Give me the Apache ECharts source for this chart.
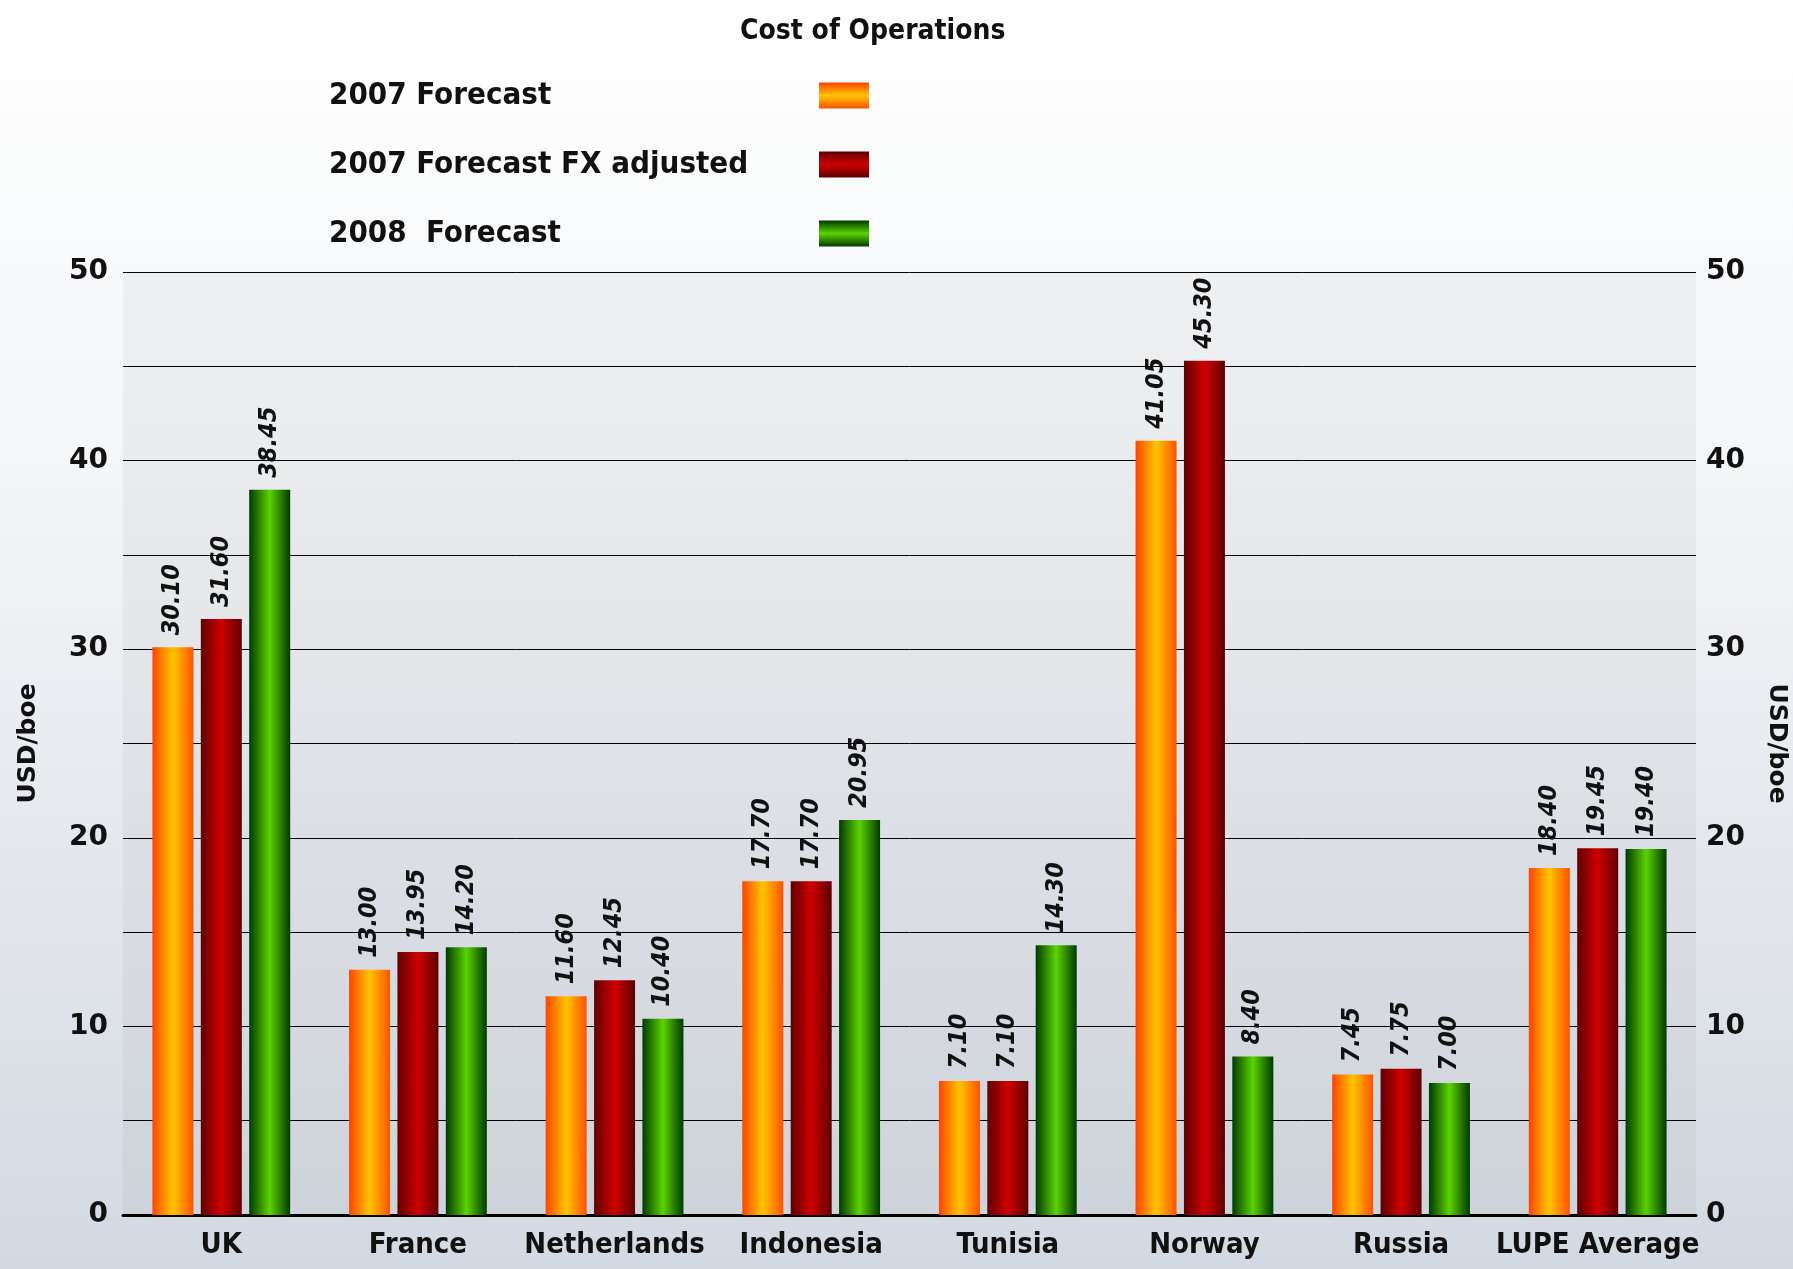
<!DOCTYPE html>
<html>
<head>
<meta charset="utf-8">
<script src="https://cdn.jsdelivr.net/npm/echarts@6/dist/echarts.min.js"></script>
<style>
  html, body { margin: 0; padding: 0; }
  #chart { width: 1793px; height: 1269px; }
</style>
</head>
<body>
<div id="chart"></div>
<script>
const categories = ["UK", "France", "Netherlands", "Indonesia", "Tunisia", "Norway", "Russia", "LUPE Average"];
const forecast2007 = [30.10, 13.00, 11.60, 17.70, 7.10, 41.05, 7.45, 18.40];
const forecastFx2007 = [31.60, 13.95, 12.45, 17.70, 7.10, 45.30, 7.75, 19.45];
const forecast2008 = [38.45, 14.20, 10.40, 20.95, 14.30, 8.40, 7.00, 19.40];
const seriesNames = ["2007 Forecast", "2007 Forecast FX adjusted", "2008  Forecast"];

const narrow = '"DejaVu Sans Condensed", "Liberation Sans Narrow", sans-serif';

// colour stops: edge, middle, edge
const palette = [
  ["#ff4400", "#ffc400", "#ff5200"],
  ["#5e0000", "#d00000", "#5e0000"],
  ["#003a00", "#5ad400", "#003a00"]
];

function grad(c, vertical) {
  return new echarts.graphic.LinearGradient(0, 0, vertical ? 0 : 1, vertical ? 1 : 0, [
    { offset: 0, color: c[0] },
    { offset: 0.5, color: c[1] },
    { offset: 1, color: c[2] }
  ]);
}

const chart = echarts.init(document.getElementById("chart"));

const valueLabel = {
  show: true,
  position: "top",
  rotate: 90,
  align: "left",
  verticalAlign: "middle",
  distance: 12,
  color: "#111",
  fontFamily: narrow,
  fontStyle: "italic",
  fontWeight: "bold",
  fontSize: 25,
  formatter: p => p.value.toFixed(2)
};

function makeSeries(name, data, idx) {
  return {
    name: name,
    type: "bar",
    data: data,
    barWidth: 41,
    barGap: "18%",
    itemStyle: { color: grad(palette[idx], false) },
    label: valueLabel
  };
}

const yAxisCommon = {
  type: "value",
  min: 0,
  max: 50,
  interval: 5,
  axisLine: { show: false },
  axisTick: { show: false },
  nameLocation: "middle",
  nameTextStyle: { fontFamily: "DejaVu Sans", fontWeight: "bold", fontSize: 25, color: "#111" },
  axisLabel: {
    color: "#111",
    fontFamily: "DejaVu Sans",
    fontWeight: "bold",
    fontSize: 28,
    formatter: v => (v % 10 === 0 ? v : "")
  }
};

const option = {
  backgroundColor: new echarts.graphic.LinearGradient(0, 0, 0, 1, [
    { offset: 0, color: "#ffffff" },
    { offset: 0.35, color: "#f5f6f8" },
    { offset: 1, color: "#d3d9e2" }
  ]),
  title: {
    text: "Cost of Operations",
    left: 735,
    top: 13,
    textStyle: { fontFamily: narrow, fontWeight: "bold", fontSize: 28, color: "#111" }
  },
  legend: {
    orient: "vertical",
    left: 324,
    top: 75,
    align: "right",
    icon: "rect",
    itemWidth: 50,
    itemHeight: 26,
    itemGap: 38,
    formatter: name => "{t|" + name + "}",
    textStyle: {
      rich: {
        t: { width: 485, align: "left", fontFamily: narrow, fontWeight: "bold", fontSize: 31, color: "#111" }
      }
    },
    data: seriesNames.map((n, i) => ({ name: n, itemStyle: { color: grad(palette[i], true) } }))
  },
  grid: {
    left: 123,
    right: 97,
    top: 272,
    bottom: 54,
    outerBoundsMode: "none",
    containLabel: false,
    show: true,
    borderWidth: 0,
    backgroundColor: "rgba(110,110,120,0.07)"
  },
  xAxis: {
    type: "category",
    data: categories,
    axisLine: { lineStyle: { color: "#000", width: 3 } },
    axisTick: { show: false },
    axisLabel: {
      interval: 0,
      margin: 16,
      color: "#111",
      fontFamily: narrow,
      fontWeight: "bold",
      fontSize: 29
    }
  },
  yAxis: [
    Object.assign({}, yAxisCommon, {
      position: "left",
      name: "USD/boe",
      nameGap: 82,
      nameRotate: 90,
      axisLabel: Object.assign({}, yAxisCommon.axisLabel, { margin: 15 }),
      splitLine: { lineStyle: { color: "#000", width: 1 } }
    }),
    Object.assign({}, yAxisCommon, {
      position: "right",
      name: "USD/boe",
      nameGap: 68,
      nameRotate: -90,
      axisLabel: Object.assign({}, yAxisCommon.axisLabel, { margin: 10 }),
      splitLine: { show: false }
    })
  ],
  series: [
    makeSeries(seriesNames[0], forecast2007, 0),
    makeSeries(seriesNames[1], forecastFx2007, 1),
    makeSeries(seriesNames[2], forecast2008, 2)
  ]
};

option && chart.setOption(option);
window.addEventListener("resize", function () {
  chart.resize();
});
</script>
</body>
</html>
